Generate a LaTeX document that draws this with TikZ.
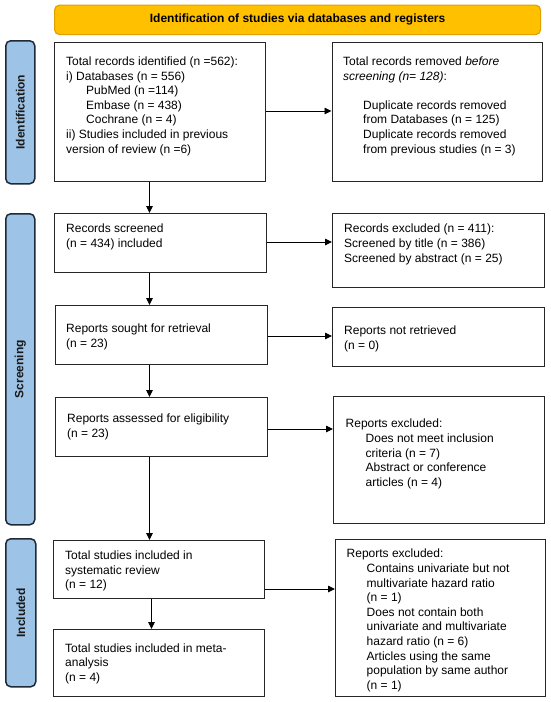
\documentclass[tikz,border=0pt]{standalone}
\usepackage{fontspec}
\setmainfont{Liberation Sans}
\usetikzlibrary{arrows.meta}
\definecolor{hdrfill}{HTML}{FFC000}
\definecolor{hdrline}{HTML}{E0A000}
\definecolor{sidefill}{HTML}{9DC3E6}
\definecolor{sideline}{HTML}{1F2A38}
\begin{document}
\begin{tikzpicture}[x=1pt,y=-1pt,
 box/.style={draw=black!85,line width=1.2pt,fill=white,anchor=north west,inner sep=0pt},
 txt/.style={anchor=north west,inner sep=0pt,align=left,font=\fontsize{12}{14.6}\selectfont},
 hdr/.style={draw=hdrline,fill=hdrfill,line width=1.2pt,rounded corners=5pt,anchor=north west,inner sep=0pt},
 side/.style={draw=sideline,fill=sidefill,line width=1.5pt,rounded corners=5pt,anchor=north west,inner sep=0pt},
 sidetxt/.style={rotate=90,font=\fontsize{12}{14}\selectfont\bfseries,inner sep=0pt,text=black!90},
 arr/.style={draw=black,line width=0.9pt,-{Triangle[length=7pt,width=6.5pt]}}]

\path[use as bounding box,fill=white] (0,0) rectangle (550,702);

% header
\node[hdr,minimum width=486pt,minimum height=29.5pt] (hdr) at (54,4.5) {};
\node[font=\fontsize{12}{14}\selectfont\bfseries,inner sep=0pt] (hdrt) at (hdr.center) {Identification of studies via databases and registers};

% side bars
\node[side,minimum width=29pt,minimum height=143pt] (sid) at (5,40) {};
\node[sidetxt] (sidt) at (sid.center) {Identification};
\node[side,minimum width=29pt,minimum height=311pt] (sscr) at (5,213) {};
\node[sidetxt] (sscrt) at (sscr.center) {Screening};
\node[side,minimum width=30pt,minimum height=148pt] (sinc) at (5,538) {};
\node[sidetxt] (sinct) at (sinc.center) {Included};

% boxes
\node[box,minimum width=211pt,minimum height=139pt] (b1) at (54,42) {};
\node[box,minimum width=210.5pt,minimum height=139pt] (r1) at (331.5,42) {};
\node[box,minimum width=211.5pt,minimum height=59pt] (b2) at (54,213) {};
\node[box,minimum width=211.5pt,minimum height=74pt] (r2) at (332,213) {};
\node[box,minimum width=211.5pt,minimum height=59pt] (b3) at (55,305) {};
\node[box,minimum width=211.5pt,minimum height=59pt] (r3) at (332,307) {};
\node[box,minimum width=211.5pt,minimum height=59pt] (b4) at (55,397) {};
\node[box,minimum width=211pt,minimum height=127pt] (r4) at (333,396) {};
\node[box,minimum width=211.5pt,minimum height=58pt] (b5) at (52.5,540) {};
\node[box,minimum width=211.5pt,minimum height=67pt] (b6) at (52.5,629) {};
\node[box,minimum width=210pt,minimum height=157pt] (r5) at (335,539) {};

% texts
\node[txt] (b1t) at (66,56.7) {Total records identified (n =562):\\
i) Databases (n = 556)\\
\hspace*{20pt}PubMed (n =114)\\
\hspace*{20pt}Embase (n = 438)\\
\hspace*{20pt}Cochrane (n = 4)\\
ii) Studies included in previous\\
version of review (n =6)};
\node[txt] (r1t) at (343,56.7) {Total records removed \textit{before}\\
\textit{screening (n= 128)}:\\
\mbox{}\\
\hspace*{20pt}Duplicate records removed\\
\hspace*{20pt}from Databases (n = 125)\\
\hspace*{20pt}Duplicate records removed\\
\hspace*{20pt}from previous studies (n = 3)};
\node[txt] (b2t) at (66,224) {Records screened\\(n = 434) included};
\node[txt] (r2t) at (344,224) {Records excluded (n = 411):\\
Screened by title (n = 386)\\
Screened by abstract (n = 25)};
\node[txt] (b3t) at (66,323.7) {Reports sought for retrieval\\(n = 23)};
\node[txt] (r3t) at (344,325.7) {Reports not retrieved\\(n = 0)};
\node[txt] (b4t) at (67,414) {Reports assessed for eligibility\\(n = 23)};
\node[txt] (r4t) at (345.5,419) {Reports excluded:\\
\hspace*{20pt}Does not meet inclusion\\
\hspace*{20pt}criteria (n = 7)\\
\hspace*{20pt}Abstract or conference\\
\hspace*{20pt}articles (n = 4)};
\node[txt] (b5t) at (65,550.7) {Total studies included in\\systematic review\\(n = 12)};
\node[txt] (b6t) at (65,643.4) {Total studies included in meta-\\analysis\\(n = 4)};
\node[txt] (r5t) at (346.5,549) {Reports excluded:\\
\hspace*{20pt}Contains univariate but not\\
\hspace*{20pt}multivariate hazard ratio\\
\hspace*{20pt}(n = 1)\\
\hspace*{20pt}Does not contain both\\
\hspace*{20pt}univariate and multivariate\\
\hspace*{20pt}hazard ratio (n = 6)\\
\hspace*{20pt}Articles using the same\\
\hspace*{20pt}population by same author\\
\hspace*{20pt}(n = 1)};

% connector guides
\coordinate (vx) at (149.5,0);
\coordinate (vy) at (151.5,0);
\coordinate (h1) at (0,111);
\coordinate (h2) at (0,242);
\coordinate (h3) at (0,336);
\coordinate (h4) at (0,429);
\coordinate (h5) at (0,589);

% vertical arrows
\draw[arr] (vx |- b1.south) -- (vx |- b2.north);
\draw[arr] (vx |- b2.south) -- (vx |- b3.north);
\draw[arr] (vx |- b3.south) -- (vx |- b4.north);
\draw[arr] (vx |- b4.south) -- (vx |- b5.north);
\draw[arr] (vy |- b5.south) -- (vy |- b6.north);

% horizontal arrows
\draw[arr] (b1.east |- h1) -- (r1.west |- h1);
\draw[arr] (b2.east |- h2) -- (r2.west |- h2);
\draw[arr] (b3.east |- h3) -- (r3.west |- h3);
\draw[arr] (b4.east |- h4) -- (r4.west |- h4);
\draw[arr] (b5.east |- h5) -- (r5.west |- h5);
\end{tikzpicture}
\end{document}
